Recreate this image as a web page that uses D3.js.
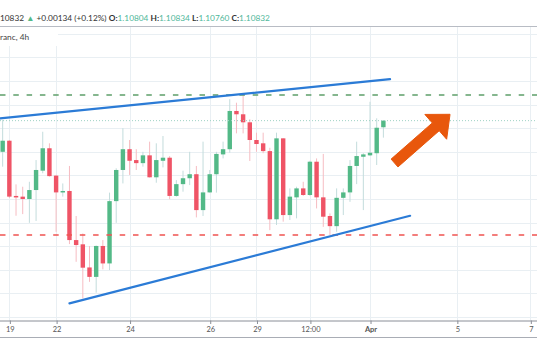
<!DOCTYPE html>
<html>
<head>
<meta charset="utf-8">
<script src="https://cdn.jsdelivr.net/npm/d3@7"></script>
<style>
  html, body { margin: 0; padding: 0; background: #fff; }
  svg { display: block; }
</style>
</head>
<body>
<svg id="chart" width="537" height="360"></svg>
<script>
// ---- data ----
const candleOpen = [1.10700,1.10747,1.10513,1.10510,1.10500,1.10538,1.10620,1.10715,1.10599,1.10528,
  1.10534,1.10326,1.10308,1.10210,1.10170,1.10301,1.10227,1.10491,1.10623,1.10711,
  1.10665,1.10652,1.10685,1.10592,1.10662,1.10675,1.10513,1.10563,1.10588,1.10605,
  1.10453,1.10528,1.10605,1.10689,1.10711,1.10873,1.10859,1.10825,1.10750,1.10736,
  1.10703,1.10414,1.10757,1.10432,1.10507,1.10545,1.10517,1.10658,1.10507,1.10428,
  1.10385,1.10505,1.10528,1.10640,1.10679,1.10685,1.10694,1.10804];
const candleHigh = [1.10835,1.10750,1.10562,1.10552,1.10573,1.10665,1.10785,1.10736,1.10602,1.10566,
  1.10640,1.10428,1.10354,1.10301,1.10303,1.10326,1.10527,1.10630,1.10800,1.10750,
  1.10711,1.10700,1.10743,1.10736,1.10767,1.10682,1.10580,1.10620,1.10700,1.10640,
  1.10743,1.10623,1.10700,1.10743,1.10923,1.10908,1.10941,1.10838,1.10781,1.10781,
  1.10717,1.10781,1.10758,1.10545,1.10552,1.10573,1.10662,1.10672,1.10691,1.10439,
  1.10545,1.10545,1.10665,1.10743,1.10694,1.10912,1.10842,1.10834];
const candleLow = [1.10637,1.10504,1.10429,1.10436,1.10399,1.10407,1.10609,1.10595,1.10361,1.10510,
  1.10309,1.10234,1.10079,1.10149,1.10103,1.10202,1.10199,1.10399,1.10566,1.10602,
  1.10623,1.10637,1.10591,1.10569,1.10634,1.10499,1.10510,1.10531,1.10559,1.10422,
  1.10428,1.10527,1.10527,1.10672,1.10696,1.10778,1.10778,1.10661,1.10700,1.10694,
  1.10368,1.10390,1.10404,1.10411,1.10418,1.10513,1.10513,1.10460,1.10382,1.10347,
  1.10361,1.10432,1.10488,1.10563,1.10453,1.10682,1.10644,1.10760];
const candleClose = [1.10747,1.10510,1.10508,1.10500,1.10538,1.10623,1.10715,1.10597,1.10528,1.10534,
  1.10326,1.10305,1.10209,1.10170,1.10301,1.10227,1.10491,1.10623,1.10711,1.10662,
  1.10652,1.10685,1.10592,1.10665,1.10675,1.10513,1.10563,1.10588,1.10605,1.10453,
  1.10528,1.10605,1.10691,1.10711,1.10873,1.10859,1.10825,1.10750,1.10733,1.10703,
  1.10414,1.10757,1.10432,1.10510,1.10545,1.10517,1.10658,1.10507,1.10425,1.10385,
  1.10505,1.10528,1.10640,1.10682,1.10689,1.10696,1.10802,1.10832];

const xTickIndex = [1, 8, 19, 31, 38, 46, 55, 68, 79];
const xTickLabels = ["19", "22", "24", "26", "29", "12:00", "Apr", "5", "7"];
const priceGridValues = [1.100,1.101,1.102,1.103,1.104,1.105,1.106,1.107,1.108,1.109,1.110,1.111,1.112];

// trend lines: [index, price]
const upperTrend = [[-0.4, 1.10842], [58.0, 1.11008]];
const lowerTrend = [[10.0, 1.10058], [61.0, 1.10429]];
const resistanceLevel = 1.10941;
const supportLevel = 1.10347;
const lastPrice = 1.10832;
const arrowFrom = [58.67, 1.106525];
const arrowTo = [66.98, 1.108589];

const headerParts = [
  {t: "10832 ", c: "#333"},
  {t: "\u25B2 ", c: "#53b987"},
  {t: "+0.00134 (+0.12%) ", c: "#333"},
  {t: "O:", c: "#333", w: 700},
  {t: "1.10804 ", c: "#4fb79a"},
  {t: "H:", c: "#333", w: 700},
  {t: "1.10834 ", c: "#4fb79a"},
  {t: "L:", c: "#333", w: 700},
  {t: "1.10760 ", c: "#4fb79a"},
  {t: "C:", c: "#333", w: 700},
  {t: "1.10832", c: "#4fb79a"}
];
const subtitle = "ranc, 4h";

// ---- drawing ----
const W = 537, H = 360;
const plotTop = 26, plotBottom = 320.5;
const svg = d3.select("#chart");
svg.append("rect").attr("width", W).attr("height", H).attr("fill", "#fff");

const candles = candleOpen.map((o, i) => ({i, o, h: candleHigh[i], l: candleLow[i], c: candleClose[i]}));

const x = d3.scaleLinear().domain([-0.4, 80]).range([0, W]);
const y = d3.scaleLinear().domain([1.099958, 1.1123305]).range([318, 26]);
const pitch = x(1) - x(0);
const bodyW = pitch * 0.66;

// grid
const grid = svg.append("g");
grid.selectAll("line.h").data(priceGridValues).join("line")
  .attr("x1", 0).attr("x2", W)
  .attr("y1", d => Math.round(y(d)) + 0.5).attr("y2", d => Math.round(y(d)) + 0.5)
  .attr("stroke", "#e9eff3").attr("stroke-width", 1);
grid.selectAll("line.v").data(xTickIndex).join("line")
  .attr("x1", d => Math.round(x(d)) + 0.5).attr("x2", d => Math.round(x(d)) + 0.5)
  .attr("y1", plotTop).attr("y2", plotBottom)
  .attr("stroke", "#e9eff3").attr("stroke-width", 1);

// candles
const cg = svg.append("g");
const up = d => d.c >= d.o;
cg.selectAll("line.wick").data(candles).join("line")
  .attr("x1", d => x(d.i)).attr("x2", d => x(d.i))
  .attr("y1", d => y(d.h)).attr("y2", d => y(d.l))
  .attr("stroke", d => up(d) ? "#c3dcdc" : "#f6bcc2").attr("stroke-width", 1);
cg.selectAll("rect.body").data(candles).join("rect")
  .attr("x", d => x(d.i) - bodyW / 2).attr("width", bodyW)
  .attr("y", d => y(Math.max(d.o, d.c)))
  .attr("height", d => Math.max(1.5, Math.abs(y(d.o) - y(d.c))))
  .attr("fill", d => up(d) ? "#53b987" : "#ef5466");

// horizontal levels
svg.append("line").attr("x1", 0).attr("x2", W)
  .attr("y1", y(lastPrice)).attr("y2", y(lastPrice))
  .attr("stroke", "#9fd2c4").attr("stroke-width", 1).attr("stroke-dasharray", "1,2");
svg.append("line").attr("x1", 0).attr("x2", W)
  .attr("y1", y(resistanceLevel)).attr("y2", y(resistanceLevel))
  .attr("stroke", "#5e9f69").attr("stroke-width", 1.5).attr("stroke-dasharray", "5.5,7.8");
svg.append("line").attr("x1", 0).attr("x2", W)
  .attr("y1", y(supportLevel)).attr("y2", y(supportLevel))
  .attr("stroke", "#ef5350").attr("stroke-width", 1.5).attr("stroke-dasharray", "5.5,7.8");

// trend lines
const lineGen = d3.line().x(d => x(d[0])).y(d => y(d[1]));
[upperTrend, lowerTrend].forEach(t => {
  svg.append("path").attr("d", lineGen(t)).attr("fill", "none")
    .attr("stroke", "#2b7bd6").attr("stroke-width", 2.2).attr("stroke-linecap", "round");
});

// arrow
(function () {
  const x0 = x(arrowFrom[0]), y0 = y(arrowFrom[1]);
  const x1 = x(arrowTo[0]), y1 = y(arrowTo[1]);
  const dx = x1 - x0, dy = y1 - y0, len = Math.hypot(dx, dy);
  const ux = dx / len, uy = dy / len, nx = -uy, ny = ux;
  const sw = 5.2, hw = 16.5, hl = 19;
  const bx = x1 - ux * hl, by = y1 - uy * hl;
  const pts = [
    [x0 + nx * sw, y0 + ny * sw], [bx + nx * sw, by + ny * sw], [bx + nx * hw, by + ny * hw],
    [x1, y1],
    [bx - nx * hw, by - ny * hw], [bx - nx * sw, by - ny * sw], [x0 - nx * sw, y0 - ny * sw]
  ];
  svg.append("path").attr("d", "M" + pts.map(p => p.join(",")).join("L") + "Z")
    .attr("fill", "#e8570c").attr("stroke", "#e8570c").attr("stroke-width", 1).attr("stroke-linejoin", "round");
})();

// top border and header
svg.append("rect").attr("x", 0).attr("y", 0).attr("width", W).attr("height", plotTop).attr("fill", "#fff");
svg.append("line").attr("x1", 0).attr("x2", W).attr("y1", plotTop + 0.5).attr("y2", plotTop + 0.5)
  .attr("stroke", "#b8bcc4").attr("stroke-width", 1);
const ht = svg.append("text").attr("x", 0).attr("y", 20.5)
  .attr("font-family", "Lato, 'Open Sans', sans-serif").attr("font-size", 8.3);
headerParts.forEach(p => {
  ht.append("tspan").text(p.t).attr("fill", p.c).attr("font-weight", p.w || 400).attr("xml:space", "preserve");
});
svg.append("rect").attr("x", 0).attr("y", plotTop + 1).attr("width", 58).attr("height", 19).attr("fill", "#fff");
svg.append("text").attr("x", 0).attr("y", 39.5).text(subtitle)
  .attr("font-family", "Lato, 'Open Sans', sans-serif").attr("font-size", 8.3).attr("fill", "#444");

// x axis
svg.append("rect").attr("x", 0).attr("y", plotBottom + 0.5).attr("width", W).attr("height", H - plotBottom).attr("fill", "#fff");
const axis = d3.axisBottom(x).tickValues(xTickIndex).tickFormat((d, i) => xTickLabels[i]).tickSize(3.5).tickPadding(2.5);
const ag = svg.append("g").attr("transform", `translate(0.5,${plotBottom})`).call(axis);
ag.select(".domain").attr("stroke", "#8a8e97").attr("d", `M-1,0.5H${W + 1}`);
ag.selectAll(".tick line").attr("stroke", "#8a8e97");
ag.selectAll(".tick text").attr("fill", "#555").attr("font-size", 7.5)
  .attr("font-family", "Lato, 'Open Sans', sans-serif")
  .attr("font-weight", (d, i) => xTickLabels[i] === "Apr" ? 700 : 400);
svg.append("line").attr("x1", 0).attr("x2", W).attr("y1", 337.5).attr("y2", 337.5)
  .attr("stroke", "#a9adb5").attr("stroke-width", 1);
</script>
</body>
</html>
